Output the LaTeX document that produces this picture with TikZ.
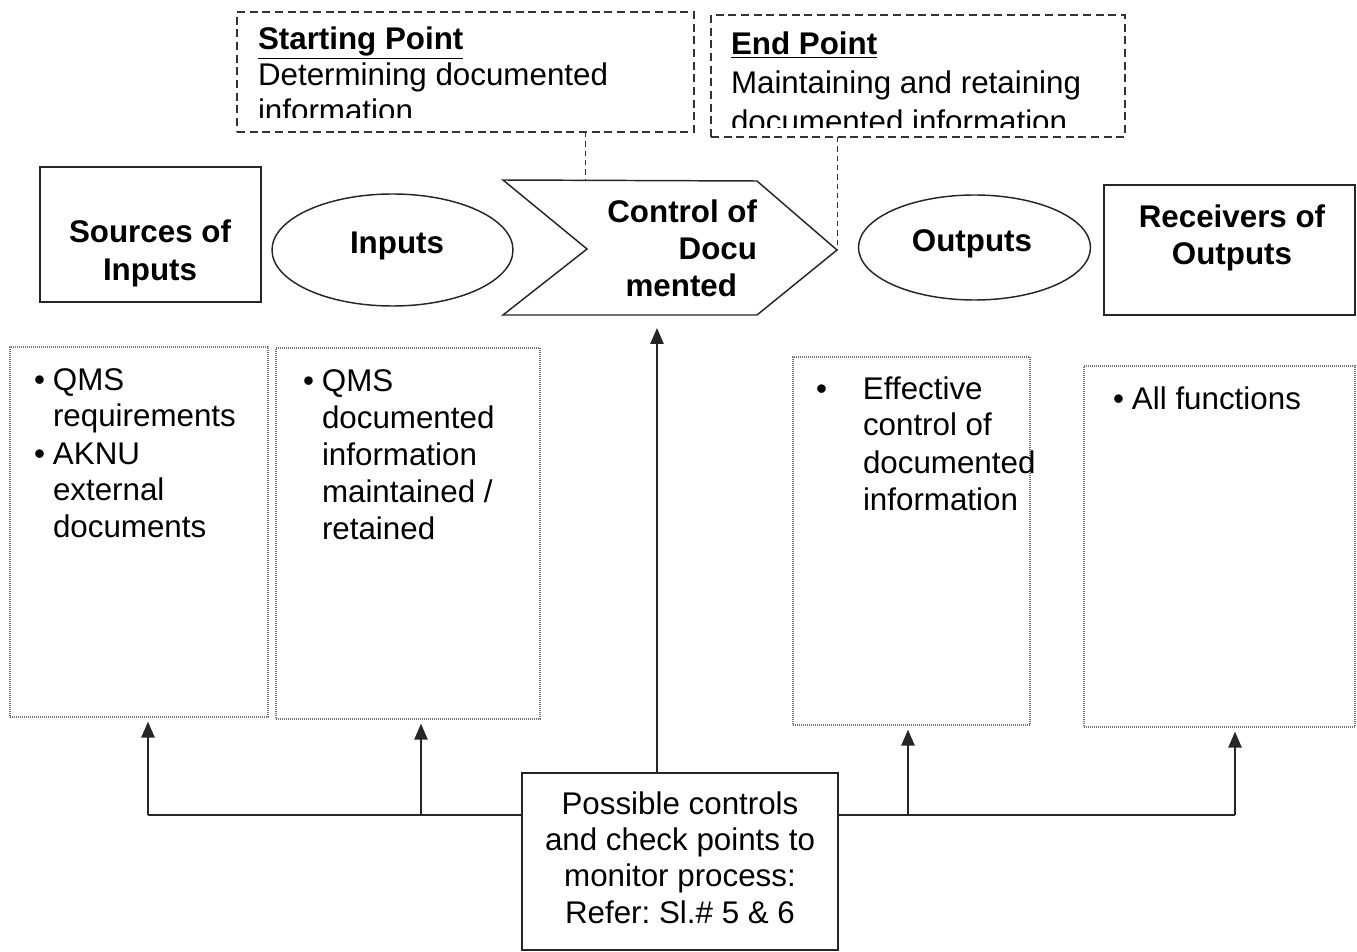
\documentclass[tikz,border=0pt]{standalone}
\usepackage{fontspec}
\setmainfont{Liberation Sans}
\usetikzlibrary{arrows.meta,fit,shapes.geometric}

% body text and heading sizes
\newcommand{\txtsize}[1]{\fontsize{23.5pt}{#1}\selectfont\frenchspacing}
% hanging bullet placed left of the item text
\newcommand{\bul}[1]{\leavevmode\llap{•\hspace{#1}}}

\begin{document}
\begin{tikzpicture}[x=0.75pt,y=-0.75pt,
  every node/.style={inner sep=0pt, outer sep=0pt},
  line/.style={draw=black!85, line width=1.2pt},
  solidbox/.style={draw=black!85, line width=1.1pt},
  dashbox/.style={draw=black!80, line width=0.9pt, dash pattern=on 6pt off 3.5pt},
  dashlink/.style={draw=black!80, line width=0.7pt, dash pattern=on 4pt off 3pt},
  dotbox/.style={draw=black!55, line width=0.8pt, dash pattern=on 0.6pt off 0.9pt},
  upar/.style={line, -{Triangle[length=12pt,width=10pt]}},
  oval/.style={ellipse, draw=black!85, line width=1.1pt},
]
\useasboundingbox (0,0) rectangle (1357,952);

% ---------- starting point / end point ----------
\node[dashbox, fit={(237,12) (694,132)}] (start) {};
\begin{scope}
  \clip (237,12) rectangle (694,118);
  \node[anchor=base west] (starttxt) at (258,50)
    {\parbox[t]{330pt}{\txtsize{27pt}\raggedright
      \textbf{\underline{Starting Point}}\\
      Determining documented\\
      information}};
\end{scope}

\node[dashbox, fit={(711,15) (1125,137)}] (end) {};
\begin{scope}
  \clip (711,15) rectangle (1125,128);
  \node[anchor=base west] (endtxt) at (731,55)
    {\parbox[t]{300pt}{\txtsize{28.9pt}\raggedright
      \textbf{\underline{End Point}}\\
      Maintaining and retaining\\
      documented information}};
\end{scope}

% ---------- process row ----------
\node[solidbox, fit={(40,167) (261,302)}] (src) {};
\node[anchor=base] (srctxt) at (150,243)
  {\parbox[t]{160pt}{\txtsize{28.5pt}\centering\bfseries Sources of\\Inputs}};

\node[oval, minimum width=180.75pt, minimum height=84pt] (inp) at (392.5,250) {};
\node[anchor=base] (inptxt) at (397,254) {\txtsize{28pt}\bfseries Inputs};

% chevron
\coordinate (ctl) at (503,180);
\coordinate (ctr) at (757,181);
\coordinate (ctip) at (837,250);
\coordinate (cbr) at (757,315);
\coordinate (cbl) at (503,315);
\coordinate (cnotch) at (587,249);
\draw[solidbox, line join=miter] (ctl) -- (ctr) -- (ctip) -- (cbr) -- (cbl) -- (cnotch) -- cycle;
\node[anchor=base east] (ctrltxt) at (757,223)
  {\parbox[t]{160pt}{\txtsize{27.75pt}\raggedleft\bfseries
    Control of\\Docu\\mented\kern15pt}};

\node[oval, minimum width=174pt, minimum height=78.75pt] (outp) at (974.5,247.5) {};
\node[anchor=base] (outtxt) at (972,252) {\txtsize{28pt}\bfseries Outputs};

\node[solidbox, fit={(1104,185) (1355,315)}] (recv) {};
\node[anchor=base] (recvtxt) at (1232,228)
  {\parbox[t]{170pt}{\txtsize{27.75pt}\centering\bfseries Receivers of\\Outputs}};

% links from the dashed notes to the chevron
\coordinate (ctop) at (585,180);
\draw[dashlink] (start.south -| ctop) -- (ctop);
\draw[dashlink] (end.south -| ctip) -- (ctip);

% ---------- detail boxes ----------
\node[dotbox, fit={(10,347) (268,717)}] (d1) {};
\node[anchor=base west] (d1txt) at (53,390)
  {\parbox[t]{180pt}{\txtsize{27.75pt}\raggedright
    \bul{6pt}QMS\\requirements\\
    \bul{6pt}AKNU\\external\\documents}};

\node[dotbox, fit={(276,348) (540,719)}] (d2) {};
\node[anchor=base west] (d2txt) at (322,392)
  {\parbox[t]{180pt}{\txtsize{27.75pt}\raggedright
    \bul{6pt}QMS\\documented\\information\\maintained /\\retained}};

\node[dotbox, fit={(793,357) (1030,725)}] (d3) {};
\node[anchor=base west] (d3txt) at (863,399)
  {\parbox[t]{170pt}{\txtsize{27.75pt}\raggedright
    \bul{27pt}Effective\\control of\\documented\\information}};

\node[dotbox, fit={(1084,366) (1355,727)}] (d4) {};
\node[anchor=base west] (d4txt) at (1132,409)
  {\parbox[t]{180pt}{\txtsize{27.75pt}\raggedright
    \bul{6pt}All functions}};

% ---------- controls and feedback arrows ----------
\node[solidbox, fit={(522,773) (838,950)}] (ctrl) {};
\node[anchor=base] (ctrltext) at (680,814)
  {\parbox[t]{230pt}{\txtsize{27.25pt}\centering
    Possible controls\\and check points to\\monitor process:\\Refer: Sl.\# 5 \& 6}};

\coordinate (chevfoot) at (657,328);
\draw[upar] (ctrl.north -| chevfoot) -- (chevfoot);

\coordinate (jl) at (148,815);
\coordinate (jm) at (421,815);
\coordinate (jr) at (908,815);
\coordinate (jrr) at (1235,815);
\draw[line] (jl) -- (jl -| ctrl.west);
\draw[line] (ctrl.east |- jrr) -- (jrr);
\draw[upar, shorten >=3.5pt] (jl) -- (jl |- d1.south);
\draw[upar, shorten >=3.5pt] (jm) -- (jm |- d2.south);
\draw[upar, shorten >=3.5pt] (jr) -- (jr |- d3.south);
\draw[upar, shorten >=3.5pt] (jrr) -- (jrr |- d4.south);
\end{tikzpicture}
\end{document}
